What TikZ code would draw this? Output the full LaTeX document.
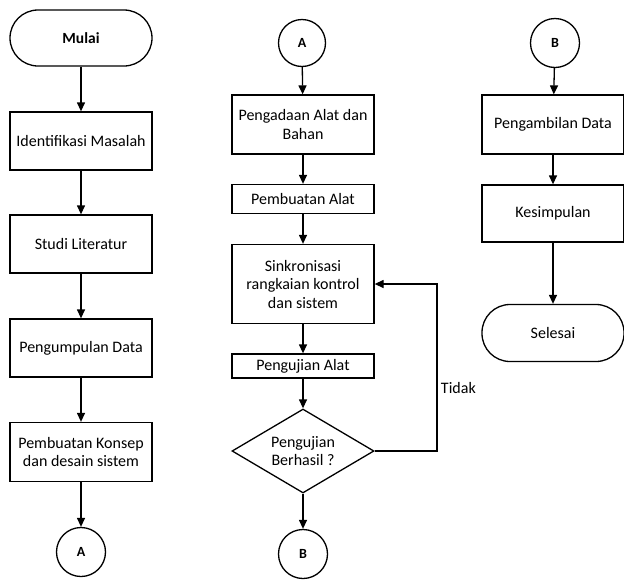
\documentclass[tikz,border=0pt]{standalone}
\usepackage{fontspec}
\setmainfont{Carlito}
\usetikzlibrary{shapes.geometric,arrows.meta}
\tikzset{
  terminal/.style={
    draw,
    rectangle,
    rounded corners=28pt,
    minimum width=142pt,
    minimum height=56pt
  },
  process/.style={
    draw,
    rectangle,
    align=center,
    inner sep=2pt,
    minimum width=142pt
  },
  connector/.style={
    draw,
    circle,
    inner sep=0pt,
    minimum size=49pt,
    font=\fontsize{14pt}{17pt}\bfseries
  },
  decision/.style={
    draw,
    diamond,
    align=center,
    aspect=1.69,
    inner sep=0pt,
    minimum width=142pt,
    minimum height=84pt
  },
  flow/.style={
    -{Triangle[width=8pt,length=9pt]}
  },
  every picture/.style={
    line width=1.3pt,
    font=\fontsize{16pt}{18.5pt}\selectfont
  }
}
\begin{document}
\begin{tikzpicture}[x=1pt,y=-1pt]
    \useasboundingbox (0,0) rectangle (624,579);
    % first column
    \node[terminal,font=\fontsize{15.5pt}{18pt}\bfseries] (mulai) at (81,38) {Mulai};
    \node[process,minimum height=58pt] (identifikasi) at (81,141) {Identifikasi Masalah};
    \node[process,minimum height=58pt] (studi) at (81,244) {Studi Literatur};
    \node[process,minimum height=58pt] (pengumpulan) at (81,348) {Pengumpulan Data};
    \node[process,minimum height=59pt] (konsep) at (81,452) {Pembuatan Konsep\\dan desain sistem};
    \node[connector] (keA) at (81,552) {A};
    \draw[flow] (mulai) -- (identifikasi);
    \draw[flow] (identifikasi) -- (studi);
    \draw[flow] (studi) -- (pengumpulan);
    \draw[flow] (pengumpulan) -- (konsep);
    \draw[flow] (konsep) -- (keA);
    % second column
    \node[connector,minimum size=47pt] (dariA) at (302,43) {A};
    \node[process,minimum height=59pt] (pengadaan) at (303,124.5) {Pengadaan Alat dan\\Bahan};
    \node[process,minimum height=29pt] (pembuatan) at (303,199) {Pembuatan Alat};
    \node[process,minimum height=79pt] (sinkron) at (303,284) {Sinkronisasi\\rangkaian kontrol\\dan sistem};
    \node[process,minimum height=24pt] (pengujian) at (303,366) {Pengujian Alat};
    \node[decision] (berhasil) at (303,451) {Pengujian\\Berhasil ?};
    \node[connector] (keB) at (303,554) {B};
    \coordinate (balik) at (437,451);
    \draw[flow] (dariA) -- (pengadaan);
    \draw[flow] (pengadaan) -- (pembuatan);
    \draw[flow] (pembuatan) -- (sinkron);
    \draw[flow] (sinkron) -- (pengujian);
    \draw[flow] (pengujian) -- (berhasil);
    \draw[flow] (berhasil) -- (keB);
    \draw[flow] (berhasil.east) -- (balik) |- (sinkron.east)
      node[pos=0.19,anchor=west] {Tidak};
    % third column
    \node[connector] (dariB) at (555,43) {B};
    \node[process,minimum height=59pt] (pengambilan) at (553,124.5) {Pengambilan Data};
    \node[process,minimum height=57pt] (kesimpulan) at (553,213.5) {Kesimpulan};
    \node[terminal,minimum height=57pt] (selesai) at (553,333) {Selesai};
    \draw[flow] (dariB) -- (pengambilan);
    \draw[flow] (pengambilan) -- (kesimpulan);
    \draw[flow] (kesimpulan) -- (selesai);
\end{tikzpicture}
\end{document}
